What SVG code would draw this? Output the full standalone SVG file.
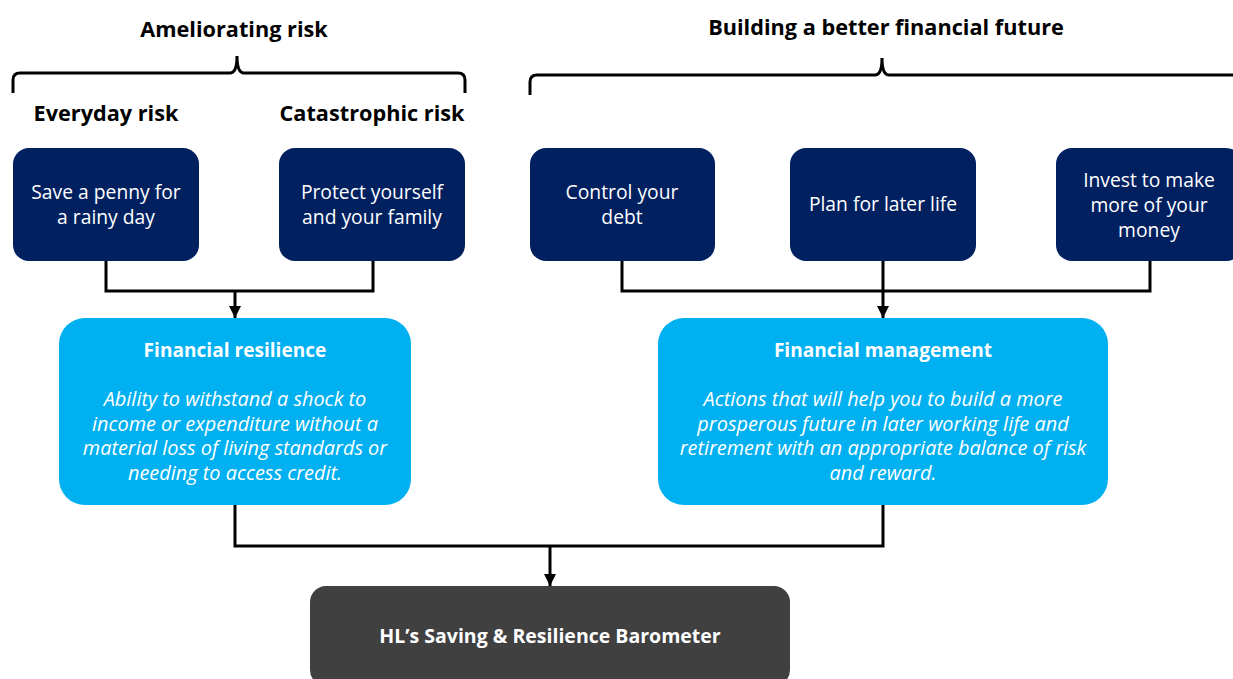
<svg xmlns="http://www.w3.org/2000/svg" width="1233" height="679" viewBox="0 0 1233 679">
<style>
.hdr{font-family:"Open Sans","Liberation Sans",sans-serif;font-weight:bold;font-size:21.7px;fill:#000;text-anchor:middle}
.dk rect{fill:#002060}
.dk text{font-family:"Open Sans","Liberation Sans",sans-serif;font-size:19.3px;fill:#fff;text-anchor:middle}
.lb rect{fill:#00B0F0}
.lb .t{font-family:"Open Sans","Liberation Sans",sans-serif;font-weight:bold;font-size:19.1px;fill:#fff;text-anchor:middle}
.lb .d{font-family:"Open Sans","Liberation Sans",sans-serif;font-style:italic;font-size:19.9px;fill:#fff;text-anchor:middle}
.gr rect{fill:#404040}
.gr text{font-family:"Open Sans","Liberation Sans",sans-serif;font-weight:bold;font-size:19.5px;fill:#fff;text-anchor:middle}
.ln{fill:none;stroke:#000;stroke-width:3}
</style>
<defs>
<marker id="ah" viewBox="0 0 10 10" refX="10" refY="5" markerWidth="4" markerHeight="4" orient="auto" markerUnits="strokeWidth">
<path d="M0,0 L10,5 L0,10 z" fill="#000"/>
</marker>
</defs>
<rect width="1233" height="679" fill="#fff"/>

<g id="headers">
<text class="hdr" x="234" y="37">Ameliorating risk</text>
<text class="hdr" x="886" y="35">Building a better financial future</text>
<text class="hdr" x="106" y="121">Everyday risk</text>
<text class="hdr" x="372" y="121">Catastrophic risk</text>
<path class="ln" d="M13,93 L13,80 Q13,73 20,73 L230,73 Q237,73 237,56 Q237,73 244,73 L458,73 Q465,73 465,80 L465,93"/>
<path class="ln" d="M530,95 L530,82 Q530,75 537,75 L875,75 Q882,75 882,58 Q882,75 889,75 L1240,75"/>
</g>

<g id="connectors">
<path class="ln" d="M106,261 V291 H373 V261"/>
<path class="ln" d="M235,291 V318" marker-end="url(#ah)"/>
<path class="ln" d="M622,261 V291 H1150 V261"/>
<path class="ln" d="M883,261 V318" marker-end="url(#ah)"/>
<path class="ln" d="M235,505 V546 H883 V505"/>
<path class="ln" d="M550,546 V586" marker-end="url(#ah)"/>
</g>

<g id="save" class="dk">
<rect x="13" y="148" width="186" height="113" rx="16"/>
<text x="106" y="199">Save a penny for</text>
<text x="106" y="224">a rainy day</text>
</g>
<g id="protect" class="dk">
<rect x="279" y="148" width="186" height="113" rx="16"/>
<text x="372" y="199">Protect yourself</text>
<text x="372" y="224">and your family</text>
</g>
<g id="debt" class="dk">
<rect x="530" y="148" width="185" height="113" rx="16"/>
<text x="622" y="199">Control your</text>
<text x="622" y="224">debt</text>
</g>
<g id="later" class="dk">
<rect x="790" y="148" width="186" height="113" rx="16"/>
<text x="883" y="211">Plan for later life</text>
</g>
<g id="invest" class="dk">
<rect x="1056" y="148" width="186" height="113" rx="16"/>
<text x="1149" y="187">Invest to make</text>
<text x="1149" y="212">more of your</text>
<text x="1149" y="237">money</text>
</g>

<g id="resilience" class="lb">
<rect x="59" y="318" width="352" height="187" rx="26"/>
<text class="t" x="235" y="357">Financial resilience</text>
<text class="d" x="235" y="406">Ability to withstand a shock to</text>
<text class="d" x="235" y="431">income or expenditure without a</text>
<text class="d" x="235" y="455">material loss of living standards or</text>
<text class="d" x="235" y="480">needing to access credit.</text>
</g>
<g id="management" class="lb">
<rect x="658" y="318" width="450" height="187" rx="26"/>
<text class="t" x="883" y="357">Financial management</text>
<text class="d" x="883" y="406">Actions that will help you to build a more</text>
<text class="d" x="883" y="431">prosperous future in later working life and</text>
<text class="d" x="883" y="455">retirement with an appropriate balance of risk</text>
<text class="d" x="883" y="480">and reward.</text>
</g>

<g id="barometer" class="gr">
<rect x="310" y="586" width="480" height="100" rx="16"/>
<text x="550" y="643">HL’s Saving &amp; Resilience Barometer</text>
</g>
</svg>
